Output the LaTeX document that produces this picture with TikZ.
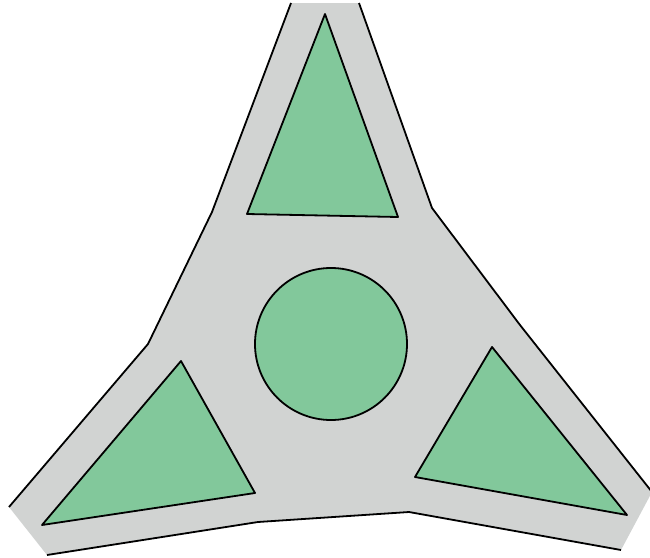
\documentclass[tikz,border=0pt]{standalone}
\definecolor{padgray}{RGB}{209,211,210}
\definecolor{padgreen}{RGB}{130,200,155}
\tikzset{
  edge/.style={draw=black,line width=1.8pt,line join=round},
  greenshape/.style={fill=padgreen,draw=black,line width=1.8pt,line join=round}
}
\begin{document}
\begin{tikzpicture}[x=1pt,y=-1pt]
\useasboundingbox (0,0) rectangle (650,557);
\clip (0,0) rectangle (650,557);
% gray body
\coordinate (t1) at (291,3);
\coordinate (t2) at (359,3);
\coordinate (r1) at (432,208);
\coordinate (r2) at (520,325);
\coordinate (r3) at (652,492);
\coordinate (r4) at (621,550);
\coordinate (b1) at (409,512);
\coordinate (b2) at (258,522);
\coordinate (b3) at (47,555);
\coordinate (l1) at (9,507);
\coordinate (l2) at (148,344);
\coordinate (l3) at (212,212);
\fill[padgray] (t1) -- (t2) -- (r1) -- (r2) -- (r3) -- (r4) -- (b1) -- (b2) -- (b3) -- (l1) -- (l2) -- (l3) -- cycle;
\draw[edge] (t2) -- (r1) -- (r2) -- (r3);
\draw[edge] (r4) -- (b1) -- (b2) -- (b3);
\draw[edge] (l1) -- (l2) -- (l3) -- (t1);
% green shapes
\draw[greenshape] (325,14) -- (247,214) -- (398,217) -- cycle;
\draw[greenshape] (181,361) -- (42,525) -- (255,493) -- cycle;
\draw[greenshape] (492,347) -- (415,477) -- (627,515) -- cycle;
\node[greenshape,circle,minimum size=152pt,inner sep=0pt] (c) at (331,344) {};
\end{tikzpicture}
\end{document}
